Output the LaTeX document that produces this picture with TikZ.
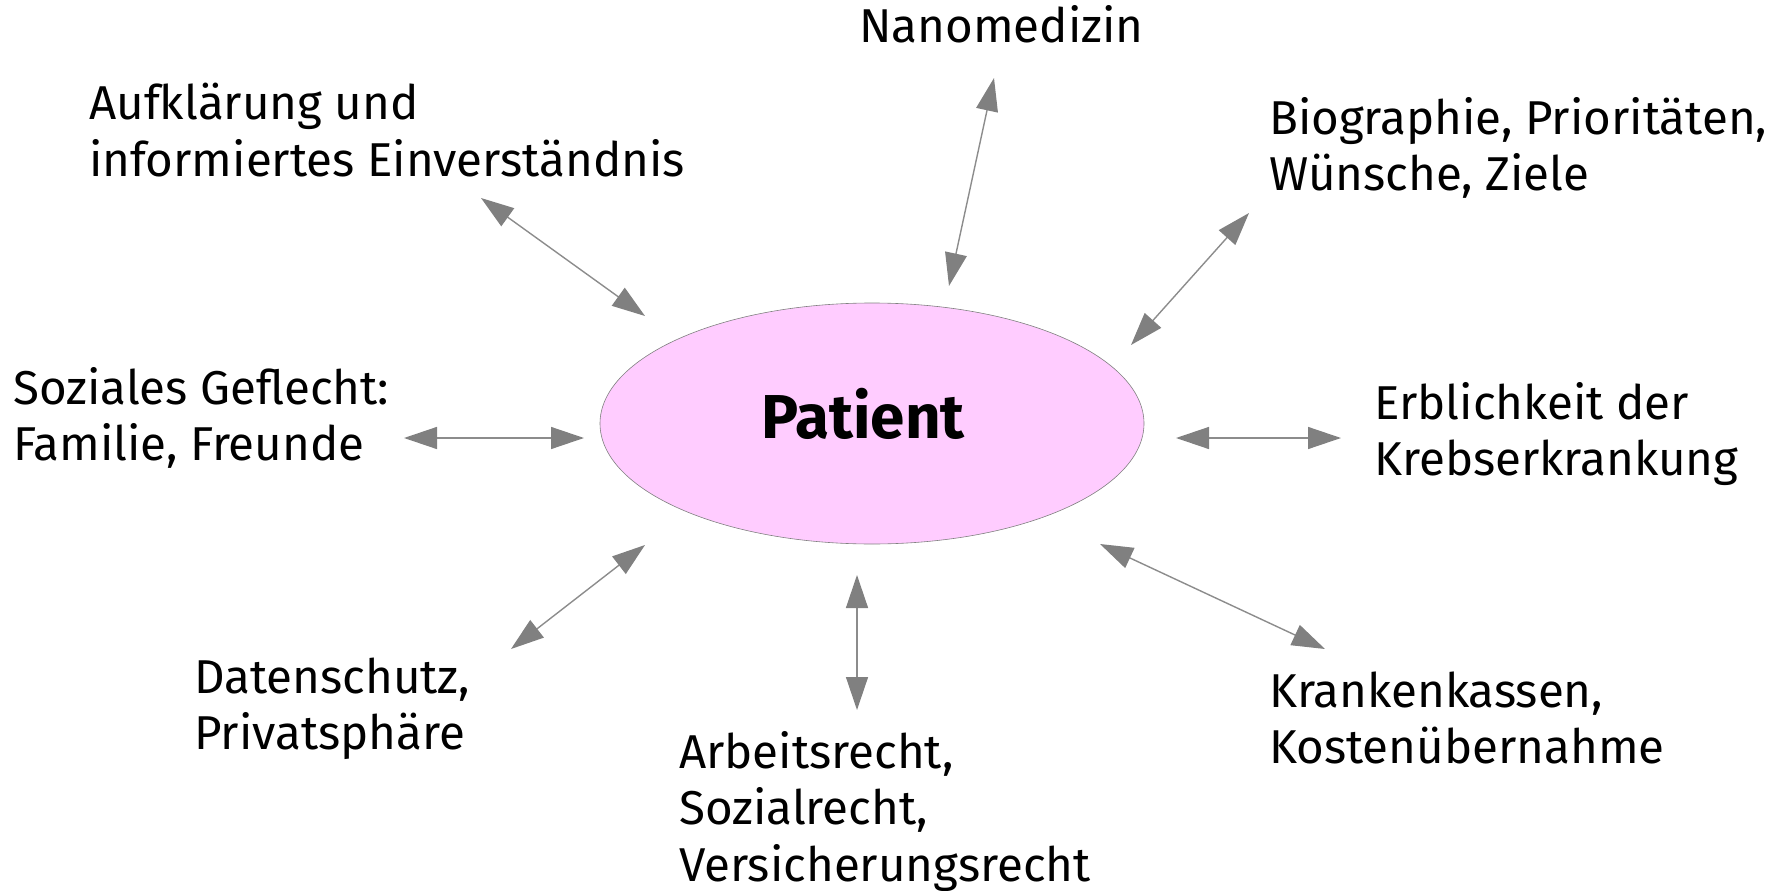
\documentclass[tikz,border=0pt]{standalone}
\usepackage{fontspec}
\setmainfont{Fira Sans}
\usetikzlibrary{arrows.meta,shapes.geometric}
\definecolor{tipgray}{RGB}{128,128,128}
\definecolor{linegray}{RGB}{140,140,140}
\definecolor{pink}{RGB}{255,204,255}
\newcommand{\lbl}[1]{\begin{tabular}[t]{@{}l@{}}#1\end{tabular}}
\tikzset{
  txt/.style={anchor=base west,inner sep=0pt,font=\fontsize{47.5}{56.5}\selectfont},
  conn/.style={draw=linegray,line width=1.4pt,{Triangle[length=33pt,width=22pt,color=tipgray]}-{Triangle[length=33pt,width=22pt,color=tipgray]}},
}
\begin{document}
\begin{tikzpicture}[x=1pt,y=-1pt]
\useasboundingbox (0,0) rectangle (1792,891);
\node[ellipse,draw=gray,line width=0.6pt,fill=pink,minimum width=544pt,minimum height=241pt,inner sep=0pt] (patient) at (872,423.5) {};
\node[inner sep=0pt,anchor=base,font=\fontsize{62}{70}\selectfont\bfseries] (ptxt) at (863,438) {Patient};

\node[txt] (nano) at (859,43) {Nanomedizin};
\node[txt] (aufk) at (89,120) {\lbl{Aufklärung und\\informiertes Einverständnis}};
\node[txt] (bio) at (1269,134) {\lbl{Biographie, Prioritäten,\\Wünsche, Ziele}};
\node[txt] (soz) at (13,404) {\lbl{Soziales Geflecht:\\Familie, Freunde}};
\node[txt] (erb) at (1374,419) {\lbl{Erblichkeit der\\Krebserkrankung}};
\node[txt] (dat) at (194,693) {\lbl{Datenschutz,\\Privatsphäre}};
\node[txt] (arb) at (679,768) {\lbl{Arbeitsrecht,\\Sozialrecht,\\Versicherungsrecht}};
\node[txt] (kra) at (1269,707) {\lbl{Krankenkassen,\\Kostenübernahme}};

\coordinate (a1) at (481,198); \coordinate (b1) at (645,316);
\coordinate (a2) at (994,78);  \coordinate (b2) at (949,286);
\coordinate (a3) at (1249,213); \coordinate (b3) at (1131,345);
\coordinate (a4) at (404,438); \coordinate (b4) at (584,438);
\coordinate (a5) at (1176,438); \coordinate (b5) at (1341,438);
\coordinate (a6) at (645,545); \coordinate (b6) at (511,649);
\coordinate (a7) at (857,575); \coordinate (b7) at (857,710);
\coordinate (a8) at (1100,544); \coordinate (b8) at (1325,649);
\foreach \i in {1,...,8} {\draw[conn] (a\i) -- (b\i);}
\end{tikzpicture}
\end{document}
